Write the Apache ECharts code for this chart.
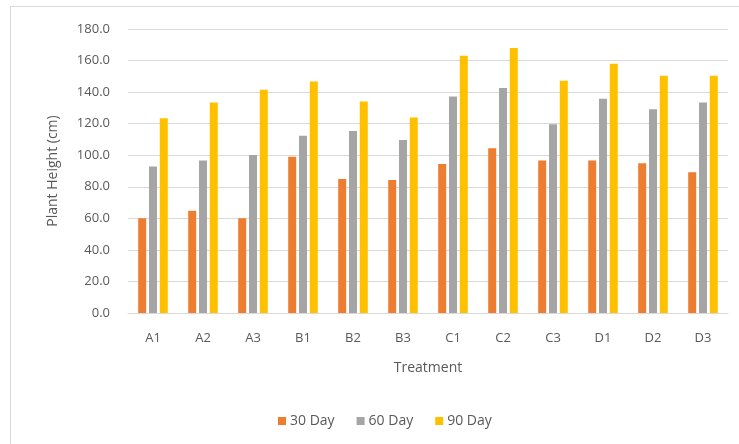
<!DOCTYPE html>
<html>
<head>
<meta charset="utf-8">
<script src="https://cdn.jsdelivr.net/npm/echarts@6/dist/echarts.min.js"></script>
<style>
    html, body { margin: 0; padding: 0; background: #fff; }
    #frame { position: absolute; left: 10px; top: 6px; width: 740px; height: 450px; border: 1px solid #d9d9d9; }
    #chart { position: absolute; left: 0; top: 0; width: 739px; height: 444px; }
</style>
</head>
<body>
<div id="frame"></div>
<div id="chart"></div>
<script>
// treatment groups
const categories = ["A1", "A2", "A3", "B1", "B2", "B3", "C1", "C2", "C3", "D1", "D2", "D3"];
// plant height (cm) per sampling day
const day30 = [60.0, 64.8, 60.0, 99.1, 84.9, 84.3, 94.5, 104.4, 96.6, 96.6, 94.9, 89.2];
const day60 = [92.8, 96.6, 100.2, 112.3, 115.4, 109.7, 137.2, 142.6, 119.7, 135.8, 129.2, 133.4];
const day90 = [123.5, 133.4, 141.5, 146.8, 134.0, 123.9, 163.1, 168.0, 147.2, 158.0, 150.4, 150.4];
const seriesNames = ["30 Day", "60 Day", "90 Day"];
const colors = ["#ED7D31", "#A5A5A5", "#FFC000"];

const txt = "#595959";
const font = "'Open Sans', sans-serif";

let myCharts = echarts.init(document.getElementById("chart"));
const options = {
    animation: false,
    color: colors,
    textStyle: { fontFamily: font },
    grid: { left: 128, right: 11, top: 29, bottom: 131 },
    legend: {
        data: seriesNames,
        bottom: 11,
        left: 273,
        itemWidth: 8,
        itemHeight: 8,
        itemGap: 22,
        icon: "rect",
        textStyle: { color: txt, fontSize: 14, fontFamily: font, padding: [0, 0, 0, -1] }
    },
    xAxis: {
        type: "category",
        data: categories,
        name: "Treatment",
        nameLocation: "middle",
        nameGap: 48,
        nameTextStyle: { color: txt, fontSize: 14, fontFamily: font },
        axisLine: { lineStyle: { color: "#d9d9d9" } },
        axisTick: { show: false },
        axisLabel: { color: txt, fontSize: 13, margin: 19, fontFamily: font }
    },
    yAxis: {
        type: "value",
        min: 0,
        max: 180,
        interval: 20,
        name: "Plant Height (cm)",
        nameLocation: "middle",
        nameGap: 68,
        nameTextStyle: { color: txt, fontSize: 14, fontFamily: font },
        axisLabel: {
            color: txt,
            fontSize: 13,
            margin: 18,
            fontFamily: font,
            formatter: function (v) { return v.toFixed(1); }
        },
        splitLine: { lineStyle: { color: "#d9d9d9" } }
    },
    series: [
        { name: seriesNames[0], type: "bar", barWidth: 8, barGap: "35%", data: day30 },
        { name: seriesNames[1], type: "bar", barWidth: 8, barGap: "35%", data: day60 },
        { name: seriesNames[2], type: "bar", barWidth: 8, barGap: "35%", data: day90 }
    ]
};
myCharts.setOption(options);
</script>
</body>
</html>
